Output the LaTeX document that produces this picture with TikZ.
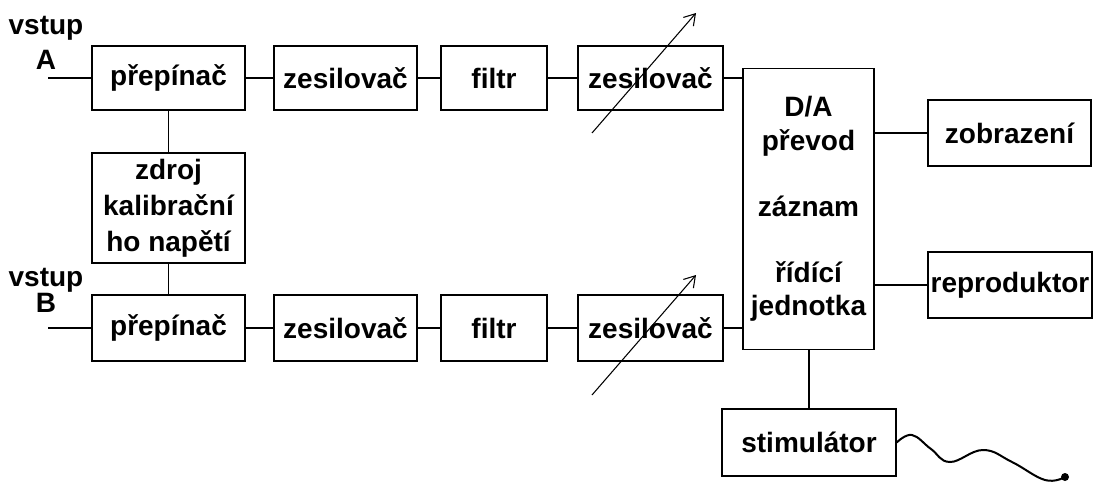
\documentclass[tikz,border=0pt]{standalone}
\usepackage{fontspec}
\setmainfont{Liberation Sans}
\usetikzlibrary{arrows.meta}
\begin{document}
\begin{tikzpicture}[x=0.75pt,y=-0.75pt,
  box/.style={draw,line width=1.1pt,inner sep=0pt,align=center,
    font=\fontsize{21}{26}\selectfont\bfseries},
  thickln/.style={line width=2pt},
  thinln/.style={line width=1pt},
  varln/.style={line width=0.8pt,-{Straight Barb[length=8pt,width=10pt,line width=0.8pt]}},
  lbl/.style={inner sep=0pt,align=center,anchor=south}
]
\fill[white] (0,0) rectangle (1097,482);
\useasboundingbox (0,0) rectangle (1097,482);

% top row
\node[box,minimum width=114.75pt,minimum height=48pt] (pA) at (168.5,78) {přepínač};
\node[box,minimum width=107.25pt,minimum height=48pt] (zA) at (345.5,78) {zesilovač};
\node[box,minimum width=79.5pt,minimum height=48pt] (fA) at (494,78) {filtr};
\node[box,minimum width=108.75pt,minimum height=48pt] (vA) at (650.5,78) {zesilovač};

% calibration source
\node[box,minimum width=114.75pt,minimum height=82.5pt,
  font=\fontsize{21}{27}\selectfont\bfseries] (zd) at (168.5,208) {zdroj\\kalibrační\\ho napětí};

% bottom row
\node[box,minimum width=114.75pt,minimum height=49.5pt] (pB) at (168.5,328) {přepínač};
\node[box,minimum width=107.25pt,minimum height=49.5pt] (zB) at (345.5,328) {zesilovač};
\node[box,minimum width=79.5pt,minimum height=49.5pt] (fB) at (494,328) {filtr};
\node[box,minimum width=108.75pt,minimum height=49.5pt] (vB) at (650.5,328) {zesilovač};

% D/A block
\node[box,minimum width=98.25pt,minimum height=210.75pt,
  font=\fontsize{21}{25}\selectfont\bfseries] (da) at (808.5,209)
  {D/A\\převod\\[25pt]záznam\\[24pt]řídící\\jednotka};

% outputs
\node[box,minimum width=122.25pt,minimum height=49.5pt] (zob) at (1009.5,133) {zobrazení};
\node[box,minimum width=123pt,minimum height=49.5pt] (rep) at (1010,285) {reproduktor};
\node[box,minimum width=130.5pt,minimum height=50.25pt] (stim) at (809,442.5) {stimulátor};

% input labels
\node[lbl,font=\fontsize{21}{26.25}\selectfont\bfseries] (lA) at (46,70) {vstup\\A};
\node[lbl,font=\fontsize{21}{19.5}\selectfont\bfseries] (lB) at (46,313) {vstup\\B};

\coordinate (inA) at (48,78);
\coordinate (inB) at (48,328);

% top connections
\draw[thickln] (inA) -- (pA.west);
\draw[thickln] (pA) -- (zA);
\draw[thickln] (zA) -- (fA);
\draw[thickln] (fA) -- (vA);
\draw[thickln] (vA.east) -- (vA.east -| da.west);

% vertical to calibration source
\draw[thinln] (pA) -- (zd);
\draw[thinln] (zd) -- (pB);

% bottom connections
\draw[thinln] (inB) -- (pB.west);
\draw[thinln] (pB) -- (zB);
\draw[thinln] (zB) -- (fB);
\draw[thinln] (fB) -- (vB);
\draw[thinln] (vB.east) -- (vB.east -| da.west);

% outputs
\draw[thinln] (da.east |- zob.west) -- (zob.west);
\draw[thickln] (da.east |- rep.west) -- (rep.west);
\draw[thinln] (da.south -| stim.north) -- (stim.north);

% variable arrows
\coordinate (aS) at (592,133);
\coordinate (aE) at (696,13);
\coordinate (bS) at (592,395);
\coordinate (bE) at (696,275);
\draw[varln] (aS) -- (aE);
\draw[varln] (bS) -- (bE);

% stimulator wire
\coordinate (tip) at (1065,477);
\draw[line width=1.5pt] plot[smooth,tension=0.7] coordinates
  {(stim.east) (912,435) (931,449) (950,462) (983,450) (1012,462) (1045,480) (tip)};
\fill (tip) circle[radius=4];
\end{tikzpicture}
\end{document}
